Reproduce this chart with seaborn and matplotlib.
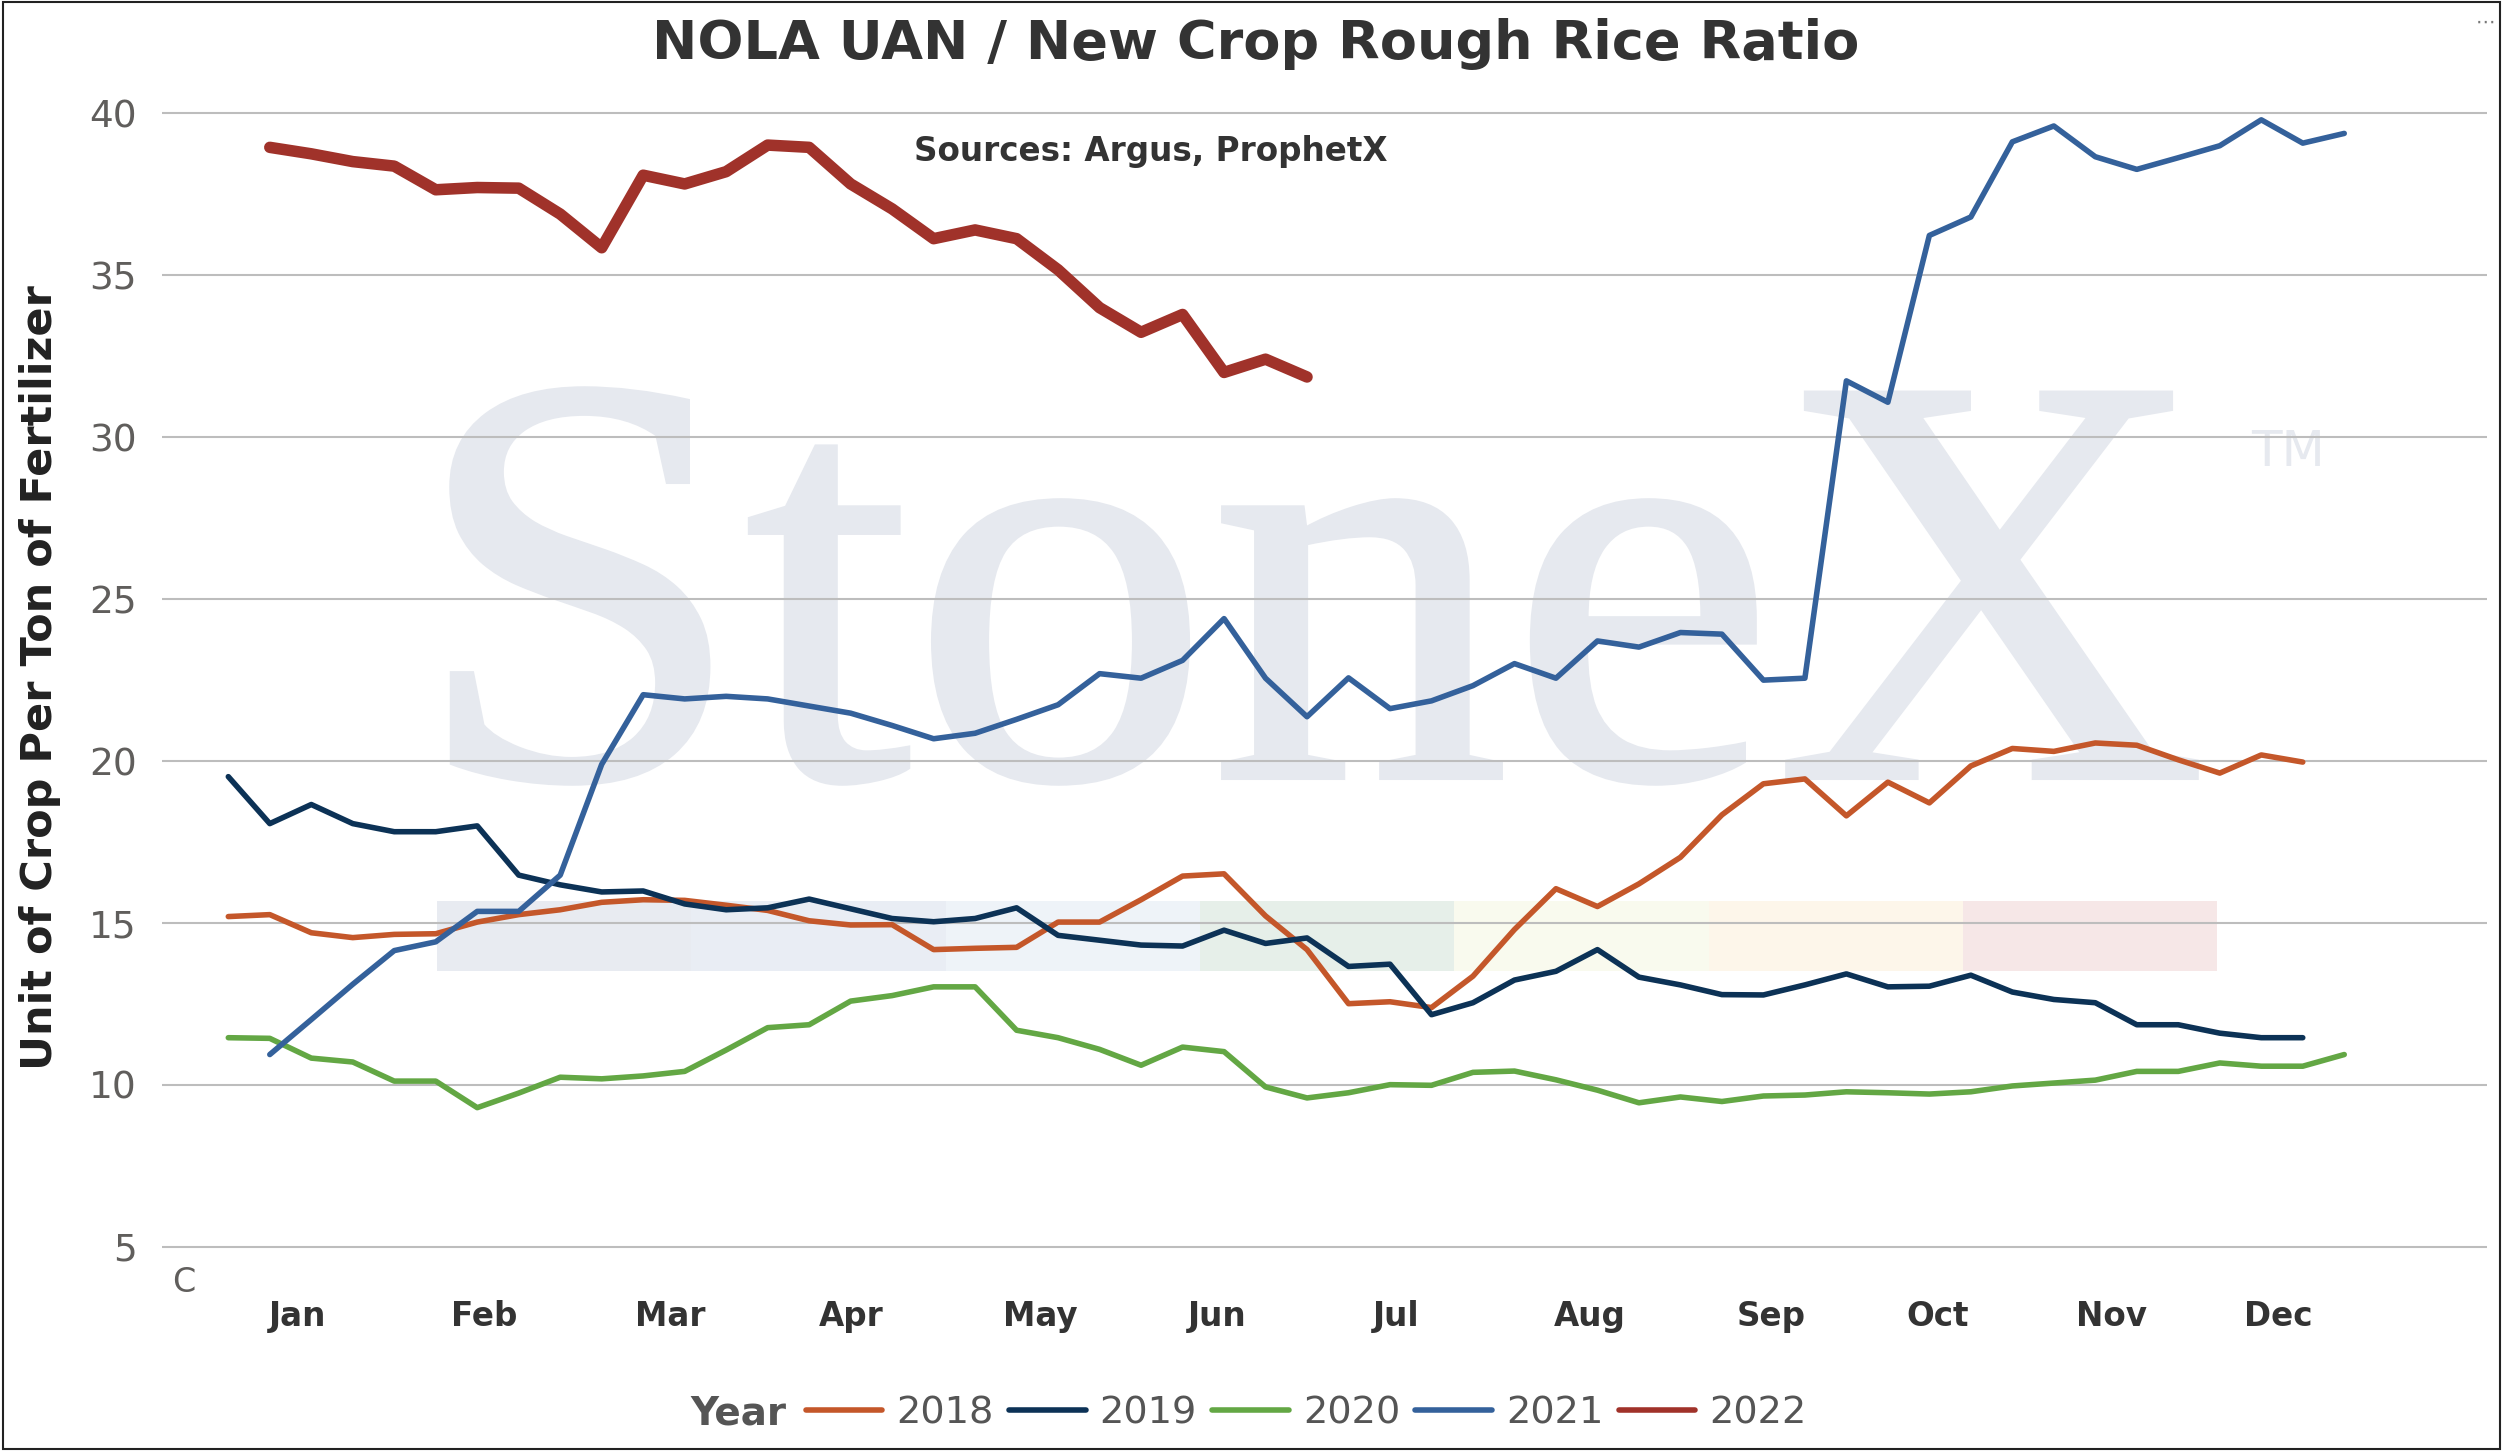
import numpy as np
import pandas as pd
import matplotlib
matplotlib.use('Agg')
from matplotlib import pyplot as plt
from matplotlib.lines import Line2D
from matplotlib.patches import Rectangle, PathPatch
from matplotlib.textpath import TextPath
from matplotlib.font_manager import FontProperties
from matplotlib.transforms import Affine2D, IdentityTransform
import seaborn as sns


### data (weekly points, week 1 = first point)
years = ['2018', '2019', '2020', '2021', '2022']
first_week = [1, 1, 1, 2, 2]

r2018 = [15.20, 15.26, 14.70, 14.55, 14.65, 14.67, 15.03, 15.26, 15.41, 15.64,
         15.72, 15.70, 15.55, 15.39, 15.07, 14.94, 14.95, 14.18, 14.22, 14.25,
         15.03, 15.03, 15.72, 16.45, 16.52, 15.22, 14.18, 12.51, 12.57, 12.39,
         13.36, 14.80, 16.06, 15.51, 16.21, 17.03, 18.34, 19.30, 19.45, 18.31,
         19.35, 18.71, 19.85, 20.39, 20.30, 20.56, 20.49, 20.04, 19.63, 20.19,
         19.97]
r2019 = [19.52, 18.07, 18.66, 18.07, 17.82, 17.82, 18.00, 16.48, 16.18, 15.96,
         15.99, 15.59, 15.41, 15.47, 15.74, 15.44, 15.14, 15.04, 15.14, 15.47,
         14.62, 14.47, 14.32, 14.29, 14.78, 14.37, 14.54, 13.66, 13.73, 12.17,
         12.54, 13.24, 13.51, 14.18, 13.33, 13.09, 12.79, 12.78, 13.09, 13.43,
         13.03, 13.05, 13.39, 12.87, 12.64, 12.54, 11.86, 11.86, 11.60, 11.46,
         11.46]
r2020 = [11.46, 11.44, 10.83, 10.71, 10.12, 10.12, 9.30, 9.75, 10.24, 10.19,
         10.28, 10.42, 11.08, 11.77, 11.86, 12.59, 12.76, 13.03, 13.03, 11.69,
         11.46, 11.10, 10.61, 11.17, 11.03, 9.94, 9.60, 9.76, 10.01, 9.99,
         10.39, 10.43, 10.16, 9.84, 9.45, 9.63, 9.49, 9.66, 9.69, 9.79,
         9.76, 9.72, 9.79, 9.97, 10.06, 10.15, 10.42, 10.42, 10.68, 10.58,
         10.58, 10.94]
r2021 = [10.94, 12.02, 13.11, 14.15, 14.42, 15.36, 15.36, 16.48, 19.90, 22.05,
         21.92, 22.00, 21.92, 21.70, 21.48, 21.10, 20.69, 20.86, 21.29, 21.74,
         22.70, 22.56, 23.11, 24.40, 22.56, 21.37, 22.57, 21.62, 21.86, 22.33,
         23.01, 22.56, 23.71, 23.52, 23.97, 23.92, 22.50, 22.56, 31.74, 31.08,
         36.23, 36.80, 39.12, 39.61, 38.66, 38.27, 38.63, 39.00, 39.80, 39.08,
         39.38]
r2022 = [38.95, 38.75, 38.51, 38.37, 37.64, 37.71, 37.69, 36.89, 35.85, 38.09,
         37.82, 38.20, 39.02, 38.95, 37.82, 37.05, 36.13, 36.40, 36.13, 35.17,
         34.00, 33.24, 33.79, 32.00, 32.41, 31.86]

months = ['Jan', 'Feb', 'Mar', 'Apr', 'May', 'Jun', 'Jul', 'Aug', 'Sep', 'Oct', 'Nov', 'Dec']
month_pos = [2.67, 7.17, 11.66, 16.02, 20.56, 24.83, 29.14, 33.81, 38.18, 42.21, 46.40, 50.41]

colors = {'2018': '#c4572a', '2019': '#0c3256', '2020': '#63a744',
          '2021': '#34619b', '2022': '#a0322a'}
widths = {'2018': 4.0, '2019': 4.0, '2020': 4.0, '2021': 4.0, '2022': 8.3}

wm_color = '#e6e9ef'
band_colors = ['#e8ebf1', '#e9edf4', '#eef3f8', '#e6efe9', '#f9faee', '#fdf6ea', '#f6e7e7']

### long table for seaborn
frames = []
for yr, start, vals in zip(years, first_week, [r2018, r2019, r2020, r2021, r2022]):
    frames.append(pd.DataFrame({'Year': yr,
                                'Week': np.arange(start, start + len(vals)),
                                'Ratio': vals}))
df = pd.concat(frames, ignore_index=True)

sns.set_theme(style='white')
plt.rcParams['font.family'] = ['DejaVu Sans']

W, H = 2504, 1456
fig = plt.figure(figsize=(W / 100, H / 100), dpi=100)
ax = fig.add_axes([0.0645, 0.1169, 0.9287, 0.8275])
ax.set_zorder(1)
ax.patch.set_visible(False)

# StoneX watermark + coloured strip, drawn on the figure behind the axes
tp = TextPath((0, 0), 'StoneX', size=100, prop=FontProperties(family='Liberation Serif'))
ext = tp.get_extents()
tr = (Affine2D().translate(-ext.x0, -ext.y0)
      .scale((2196 - 452) / ext.width, 394 / ext.height)
      .translate(452, H - 783))
fig.add_artist(PathPatch(tr.transform_path(tp), facecolor=wm_color, edgecolor=wm_color,
                         linewidth=4, transform=IdentityTransform(), zorder=0.2))
fig.text(0.899, 0.680, 'TM', fontsize=36, color=wm_color, ha='left', va='baseline', zorder=0.2)
seg_w = 254.3 / W
for k, c in enumerate(band_colors):
    fig.add_artist(Rectangle((437 / W + k * seg_w, 0.3331), seg_w, 0.0481,
                             transform=fig.transFigure, facecolor=c, edgecolor='none',
                             zorder=0.3))

for yr in years:
    sub = df[df['Year'] == yr]
    sns.lineplot(data=sub, x='Week', y='Ratio', color=colors[yr], linewidth=widths[yr],
                 ax=ax, legend=False, solid_joinstyle='round', solid_capstyle='round')

ax.set_xlim(-0.61, 55.44)
ax.set_ylim(3.8, 41)
ax.set_yticks(range(5, 41, 5))
ax.set_xticks(month_pos, months)
ax.set_axisbelow(True)
ax.yaxis.grid(True, color='#bdbdbd', linewidth=1.5)
ax.xaxis.grid(False)
ax.set_xlabel('')
ax.set_ylabel('')
sns.despine(ax=ax, left=True, bottom=True)
ax.tick_params(axis='y', length=0, pad=18, labelsize=27, labelcolor='#605e5c')
ax.tick_params(axis='x', length=0, pad=10.5, labelsize=23.5, labelcolor='#333333')
for lab in ax.get_xticklabels():
    lab.set_fontweight('bold')

fig.text(0.5016, 0.9595, 'NOLA UAN / New Crop Rough Rice Ratio', ha='center', va='baseline',
         fontsize=39, fontweight='bold', color='#333333')
fig.text(0.4594, 0.8894, 'Sources: Argus, ProphetX', ha='center', va='baseline',
         fontsize=23.5, fontweight='bold', color='#333333')
fig.text(0.016, 0.5343, 'Unit of Crop Per Ton of Fertilizer', rotation=90, ha='center',
         va='center', fontsize=31, fontweight='bold', color='#222222')
fig.text(0.0735, 0.1195, 'C', ha='center', va='center', fontsize=24, color='#605e5c')

# legend
handles = [Line2D([], [], color=colors[yr], lw=4.0) for yr in years]
leg = fig.legend(handles, years, loc='center left', bbox_to_anchor=(806 / W, 0.029),
                 ncol=5, frameon=False, fontsize=27.5, handlelength=2.0,
                 handletextpad=0.37, columnspacing=0.4, borderpad=0, borderaxespad=0)
for t in leg.get_texts():
    t.set_color('#555555')
fig.text(786 / W, 0.029, 'Year', ha='right', va='center', fontsize=28,
         fontweight='bold', color='#555555')

# frame of the visual
fig.add_artist(Rectangle((0.001, 0.0045), 0.9975, 0.994, transform=fig.transFigure,
                         fill=False, edgecolor='#222222', linewidth=1.5, zorder=5))
fig.text(0.9965, 0.991, '⋯', ha='right', va='top', fontsize=14, color='#777777')

plt.savefig('out.png', dpi=100)
